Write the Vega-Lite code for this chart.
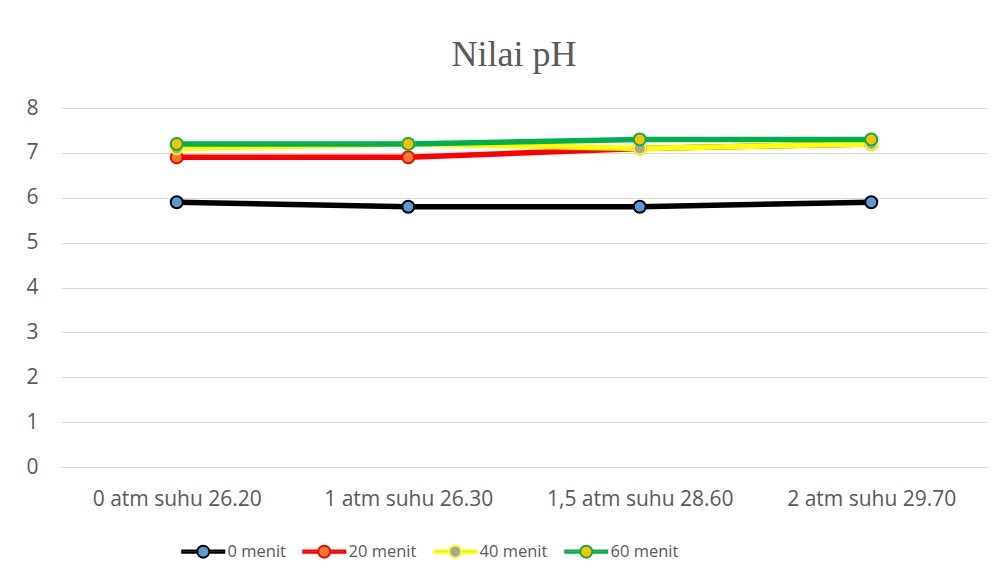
{
  "$schema": "https://vega.github.io/schema/vega-lite/v6.json",
  "width": 926,
  "height": 359,
  "autosize": {"type": "none"},
  "padding": {"left": 61, "top": 108, "right": 17, "bottom": 119},
  "background": "#ffffff",
  "config": {
    "view": {"stroke": null},
    "legend": {
      "title": null,
      "orient": "none",
      "legendX": 134,
      "legendY": 435,
      "direction": "horizontal",
      "columns": 4,
      "columnPadding": 13,
      "symbolType": "M-3.5,-0.2H-1V0.2H-3.5Z M1,-0.2H3.5V0.2H1Z M1,0A1,1 0 1,1 -1,0A1,1 0 1,1 1,0Z",
      "symbolSize": 144,
      "symbolStrokeWidth": 2,
      "labelOffset": 16,
      "labelFont": "Open Sans",
      "labelFontSize": 16.5,
      "labelColor": "#595959"
    }
  },
  "title": {
    "text": "Nilai pH",
    "font": "Liberation Serif",
    "fontSize": 36,
    "fontWeight": "normal",
    "color": "#595959",
    "anchor": "middle",
    "offset": 23,
    "dx": -10
  },
  "data": {
    "values": [
      {"kondisi": "0 atm suhu 26.20", "seri": "0 menit", "ph": 5.9},
      {"kondisi": "1 atm suhu 26.30", "seri": "0 menit", "ph": 5.8},
      {"kondisi": "1,5 atm suhu 28.60", "seri": "0 menit", "ph": 5.8},
      {"kondisi": "2 atm suhu 29.70", "seri": "0 menit", "ph": 5.9},
      {"kondisi": "0 atm suhu 26.20", "seri": "20 menit", "ph": 6.9},
      {"kondisi": "1 atm suhu 26.30", "seri": "20 menit", "ph": 6.9},
      {"kondisi": "1,5 atm suhu 28.60", "seri": "20 menit", "ph": 7.1},
      {"kondisi": "2 atm suhu 29.70", "seri": "20 menit", "ph": 7.2},
      {"kondisi": "0 atm suhu 26.20", "seri": "40 menit", "ph": 7.1},
      {"kondisi": "1 atm suhu 26.30", "seri": "40 menit", "ph": 7.2},
      {"kondisi": "1,5 atm suhu 28.60", "seri": "40 menit", "ph": 7.1},
      {"kondisi": "2 atm suhu 29.70", "seri": "40 menit", "ph": 7.2},
      {"kondisi": "0 atm suhu 26.20", "seri": "60 menit", "ph": 7.2},
      {"kondisi": "1 atm suhu 26.30", "seri": "60 menit", "ph": 7.2},
      {"kondisi": "1,5 atm suhu 28.60", "seri": "60 menit", "ph": 7.3},
      {"kondisi": "2 atm suhu 29.70", "seri": "60 menit", "ph": 7.3}
    ]
  },
  "encoding": {
    "x": {
      "field": "kondisi",
      "type": "ordinal",
      "sort": ["0 atm suhu 26.20", "1 atm suhu 26.30", "1,5 atm suhu 28.60", "2 atm suhu 29.70"],
      "scale": {"type": "point", "padding": 0.5},
      "axis": {
        "title": null,
        "labelAngle": 0,
        "ticks": false,
        "domainColor": "#d9d9d9",
        "domainWidth": 1,
        "labelFont": "Open Sans",
        "labelFontSize": 21,
        "labelColor": "#595959",
        "labelPadding": 21,
        "labelLimit": 400,
        "labelOverlap": false
      }
    },
    "y": {
      "field": "ph",
      "type": "quantitative",
      "scale": {"domain": [0, 8], "nice": false},
      "axis": {
        "title": null,
        "values": [0, 1, 2, 3, 4, 5, 6, 7, 8],
        "domain": false,
        "ticks": false,
        "gridColor": "#d9d9d9",
        "gridWidth": 1,
        "labelFont": "Open Sans",
        "labelFontSize": 21,
        "labelColor": "#595959",
        "labelPadding": 23
      }
    },
    "stroke": {
      "field": "seri",
      "type": "nominal",
      "scale": {"domain": ["0 menit", "20 menit", "40 menit", "60 menit"], "range": ["#000000", "#FF0000", "#FFFF00", "#00B050"]}
    }
  },
  "layer": [
    {
      "mark": {"type": "line", "strokeWidth": 5.5}
    },
    {
      "mark": {"type": "point", "shape": "circle", "filled": true, "size": 144, "strokeWidth": 2, "opacity": 1},
      "encoding": {
        "fill": {
          "field": "seri",
          "type": "nominal",
          "scale": {"domain": ["0 menit", "20 menit", "40 menit", "60 menit"], "range": ["#5B9BD5", "#ED7D31", "#A5A5A5", "#FFC000"]}
        }
      }
    }
  ]
}
